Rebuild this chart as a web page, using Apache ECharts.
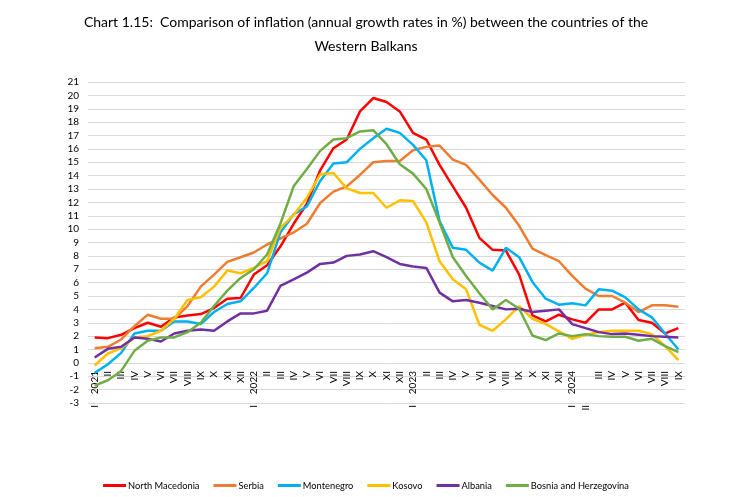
<!DOCTYPE html>
<html>
<head>
<meta charset="utf-8">
<script src="https://cdn.jsdelivr.net/npm/echarts@6/dist/echarts.min.js"></script>
<style>
    html, body { margin: 0; padding: 0; background: #fff; }
    #chart { width: 732px; height: 497px; }
</style>
</head>
<body>
<div id="chart"></div>
<script>
    // months Jan 2021 .. Sep 2024
    const months = ['I', 'II', 'III', 'IV', 'V', 'VI', 'VII', 'VIII', 'IX', 'X', 'XI', 'XII'];
    const years = ['2021', '2022', '2023', '2024'];
    const monthCount = 45;

    const northMacedonia = [1.9, 1.85, 2.1, 2.6, 3.0, 2.7, 3.4, 3.55, 3.65, 4.1, 4.8, 4.85,
        6.6, 7.3, 8.7, 10.4, 11.9, 14.4, 16.05, 16.7, 18.8, 19.8, 19.5, 18.8,
        17.2, 16.7, 14.8, 13.2, 11.6, 9.35, 8.45, 8.4, 6.6, 3.55, 3.1, 3.6,
        3.25, 3.0, 4.0, 4.0, 4.5, 3.2, 3.0, 2.2, 2.6];
    const serbia = [1.1, 1.2, 1.75, 2.75, 3.6, 3.3, 3.3, 4.25, 5.7, 6.6, 7.55, 7.9,
        8.25, 8.85, 9.3, 9.75, 10.4, 11.95, 12.8, 13.2, 14.05, 15.0, 15.1, 15.1,
        15.9, 16.15, 16.25, 15.2, 14.8, 13.7, 12.55, 11.6, 10.25, 8.55, 8.05, 7.6,
        6.5, 5.55, 5.0, 5.0, 4.5, 3.8, 4.3, 4.3, 4.2];
    const montenegro = [-0.75, -0.1, 0.75, 2.2, 2.4, 2.4, 3.1, 3.1, 2.9, 3.8, 4.4, 4.6,
        5.6, 6.7, 9.75, 11.1, 11.7, 13.6, 14.9, 15.0, 16.0, 16.8, 17.5, 17.2,
        16.3, 15.15, 10.6, 8.6, 8.45, 7.5, 6.9, 8.6, 7.9, 6.05, 4.8, 4.35,
        4.45, 4.3, 5.5, 5.4, 4.9, 4.0, 3.4, 2.2, 1.0];
    const kosovo = [-0.2, 0.7, 1.1, 1.9, 2.0, 2.4, 3.3, 4.7, 4.9, 5.7, 6.9, 6.7,
        7.1, 7.6, 10.1, 11.05, 12.35, 14.1, 14.2, 13.05, 12.7, 12.7, 11.6, 12.15,
        12.1, 10.5, 7.6, 6.25, 5.5, 2.85, 2.4, 3.25, 4.25, 3.3, 2.9, 2.35,
        1.8, 2.1, 2.3, 2.4, 2.4, 2.4, 2.15, 1.25, 0.2];
    const albania = [0.4, 1.05, 1.2, 1.9, 1.8, 1.6, 2.2, 2.4, 2.5, 2.4, 3.1, 3.7,
        3.7, 3.9, 5.75, 6.25, 6.75, 7.4, 7.5, 8.0, 8.1, 8.35, 7.9, 7.4,
        7.2, 7.1, 5.25, 4.6, 4.7, 4.5, 4.25, 4.0, 4.05, 3.8, 3.9, 4.0,
        2.9, 2.6, 2.3, 2.15, 2.2, 2.1, 2.0, 1.95, 1.9];
    const bosnia = [-1.7, -1.3, -0.6, 0.9, 1.65, 1.9, 1.9, 2.3, 3.0, 4.25, 5.4, 6.35,
        7.0, 8.1, 10.4, 13.2, 14.5, 15.85, 16.7, 16.8, 17.3, 17.4, 16.35, 14.85,
        14.15, 13.0, 10.5, 7.9, 6.5, 5.2, 4.0, 4.7, 4.05, 2.05, 1.7, 2.2,
        2.0, 2.15, 2.0, 1.95, 1.95, 1.65, 1.8, 1.25, 0.8];

    const seriesList = [
        { name: 'North Macedonia', data: northMacedonia, color: '#FF0000' },
        { name: 'Serbia', data: serbia, color: '#ED7D31' },
        { name: 'Montenegro', data: montenegro, color: '#00B0F0' },
        { name: 'Kosovo', data: kosovo, color: '#FFC000' },
        { name: 'Albania', data: albania, color: '#7030A0' },
        { name: 'Bosnia and Herzegovina', data: bosnia, color: '#70AD47' }
    ];

    const categories = [];
    for (let i = 0; i < monthCount; i++) {
        categories.push(years[Math.floor(i / 12)] + '-' + months[i % 12]);
    }

    // Excel prints the 2024 "II" label on the lower row
    const lowered = [37];

    const font = 'Lato, "Open Sans", sans-serif';

    const chart = echarts.init(document.getElementById('chart'));
    chart.setOption({
        animation: false,
        textStyle: { fontFamily: font },
        title: {
            text: 'Chart 1.15:  Comparison of inflation (annual growth rates in %) between the countries of the\nWestern Balkans',
            left: 'center',
            top: 5,
            textStyle: { fontSize: 14, fontWeight: 'normal', color: '#000', lineHeight: 24, fontFamily: font }
        },
        legend: {
            bottom: 2,
            left: 'center',
            icon: 'rect',
            itemWidth: 23,
            itemHeight: 3,
            itemGap: 14,
            textStyle: { fontSize: 9.3, color: '#000', fontFamily: font, padding: [0, 0, 0, -3] },
            data: seriesList.map(d => d.name)
        },
        grid: { left: 88, right: 47, top: 82, bottom: 94 },
        xAxis: [{
            // month row sits on the zero line (40px above the -3 edge)
            type: 'category',
            data: categories,
            position: 'bottom',
            offset: -40,
            axisLine: { show: false, onZero: false },
            axisTick: { show: false },
            axisLabel: {
                interval: 0,
                rotate: 90,
                margin: 8,
                fontSize: 10,
                color: '#000',
                formatter: (v, i) => {
                    if (lowered.indexOf(i) >= 0) return '';
                    const parts = v.split('-');
                    return parts[1] === 'I' ? parts[0] : parts[1];
                }
            }
        }, {
            type: 'category',
            data: categories,
            position: 'bottom',
            axisLine: { show: false, onZero: false },
            axisTick: { show: false },
            axisLabel: {
                interval: 0,
                rotate: 90,
                margin: 2,
                fontSize: 10,
                color: '#000',
                formatter: (v, i) => {
                    const m = v.split('-')[1];
                    if (m === 'I' || lowered.indexOf(i) >= 0) return m;
                    return '';
                }
            }
        }],
        yAxis: {
            type: 'value',
            min: -3,
            max: 21,
            interval: 1,
            axisLine: { show: false },
            axisTick: { show: false },
            axisLabel: { fontSize: 10, color: '#000', margin: 9 },
            splitLine: { lineStyle: { color: '#d9d9d9', width: 1 } }
        },
        series: seriesList.map(d => ({
            name: d.name,
            type: 'line',
            data: d.data,
            showSymbol: false,
            symbol: 'none',
            color: d.color,
            lineStyle: { width: 2.5, color: d.color }
        }))
    });
</script>
</body>
</html>
